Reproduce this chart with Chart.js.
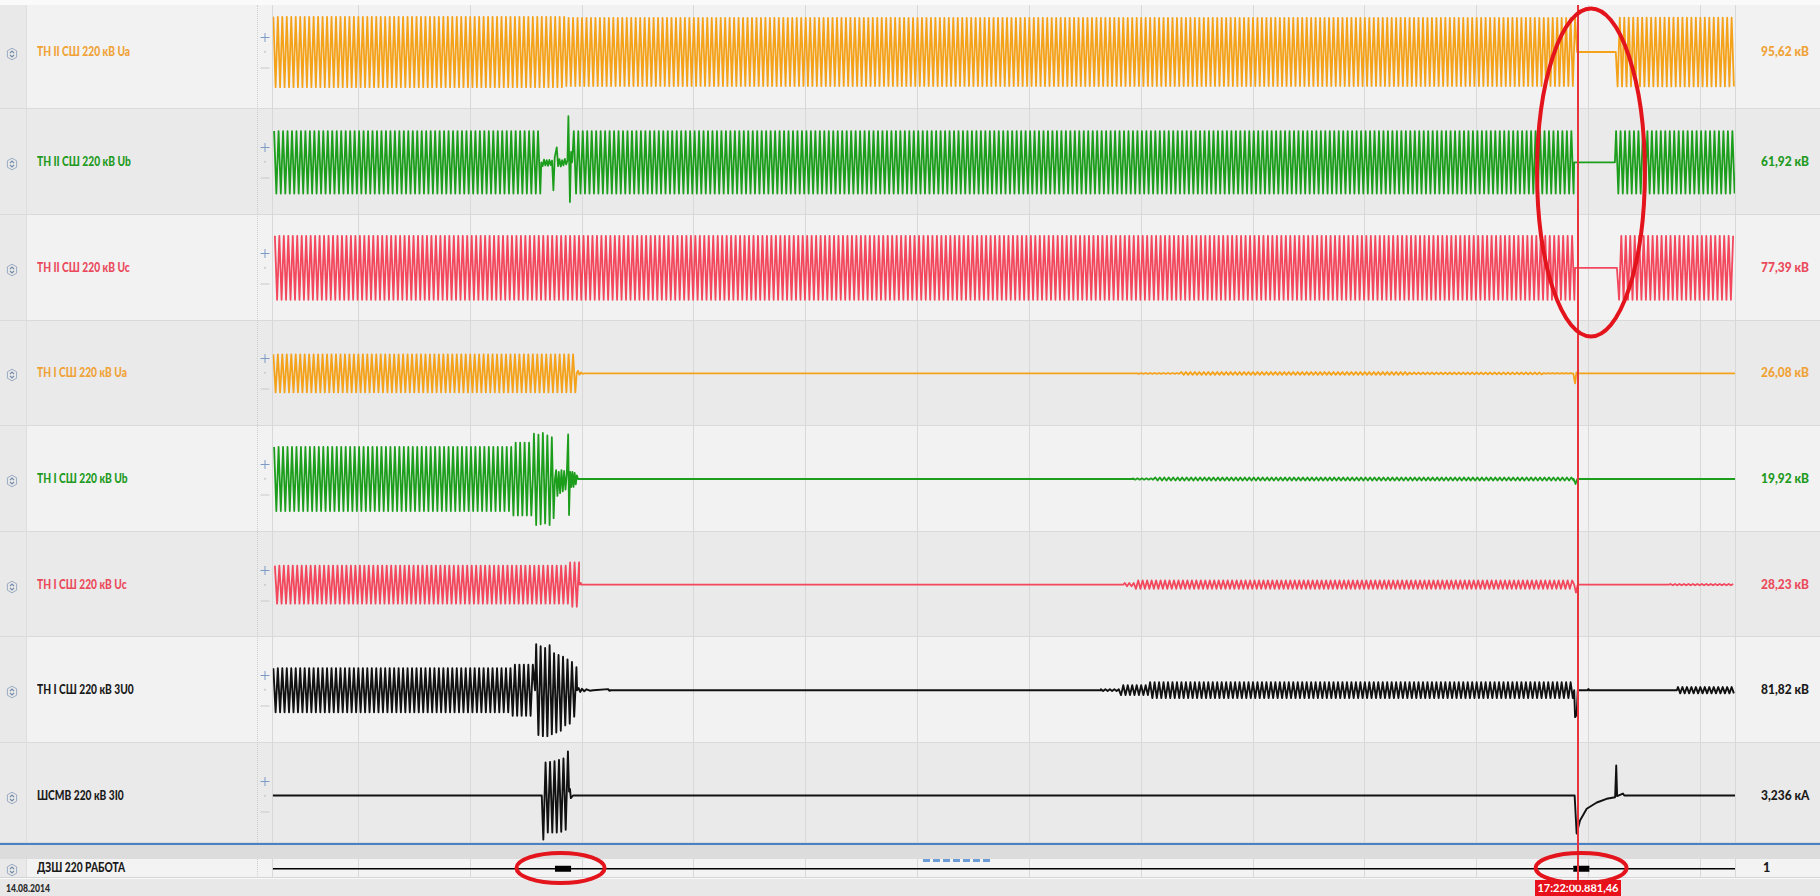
<!DOCTYPE html>
<html lang="ru">
<head>
<meta charset="utf-8">
<title>Осциллограмма 14.08.2014</title>
<script src="https://cdn.jsdelivr.net/npm/chart.js@4.4.1/dist/chart.umd.min.js"></script>
<style>
  html, body { margin: 0; padding: 0; }
  body { width: 1820px; height: 896px; position: relative; overflow: hidden; background: #fafafa;
         font-family: Lato, "Open Sans", "DejaVu Sans", sans-serif; }
  .strip { position: absolute; left: 0; width: 1820px; box-sizing: border-box; border-bottom: 1px solid #dadada; }
  .icol { position: absolute; left: 0; top: 0; bottom: 0; width: 27px; background: #e9e9e9; border-right: 1px solid #dedede; box-sizing: border-box; }
  .txt { position: absolute; font-weight: 900; font-size: 12.5px; line-height: 14px; white-space: nowrap; transform-origin: 0 50%; }
  canvas { position: absolute; }
</style>
</head>
<body>
<div id="stage"></div>
<script>
// ---- time axis (ms, zero at the first 0.5 s grid line) ----
const TIME_MIN = -383;
const TIME_MAX = 6155;
const timeGrid = [0, 500, 1000, 1500, 2000, 2500, 3000, 3500, 4000, 4500, 5000, 5500, 6000];
const HALF_PERIOD = 10;            // 50 Hz mains, one peak every 10 ms
const cursorTime = 5453;
const cursorStamp = '17:22:00.881,46';
const recordDate = '14.08.2014';

// ---- channel captions and readings at the cursor ----
const channelNames = [
  'ТН II СШ 220 кВ Ua', 'ТН II СШ 220 кВ Ub', 'ТН II СШ 220 кВ Uc',
  'ТН I СШ 220 кВ Ua', 'ТН I СШ 220 кВ Ub', 'ТН I СШ 220 кВ Uc',
  'ТН I СШ 220 кВ 3U0', 'ШСМВ 220 кВ 3I0'
];
const cursorReadings = ['95,62 кВ', '61,92 кВ', '77,39 кВ', '26,08 кВ', '19,92 кВ', '28,23 кВ', '81,82 кВ', '3,236 кА'];
const digitalName = 'ДЗШ 220 РАБОТА';
const digitalReading = '1';

// ---- analog signals: steady oscillation envelopes [from ms, to ms, peak] ----
// ---- and irregular stretches as explicit [ms, value] samples ----
const uaIIEnvelope = [[-383, 930, 180], [930, 5449, 174], [5449, 5622, 0], [5622, 6155, 176]];
const uaIISamples = [];

const ubIIEnvelope = [[-383, 818, 180], [956, 5436, 180], [5436, 5618, 0], [5618, 6155, 180]];
const ubIISamples = [
  [818, 0], [824, -22], [830, 15], [836, -18], [842, 12], [848, -20], [854, 14], [860, -16], [866, 10],
  [872, -161], [878, 30], [887, 86], [893, -22], [899, 18], [905, -24], [911, 12], [917, -18], [923, 20],
  [929, -12], [935, 10], [939, 265], [946, -229], [951, 60], [956, 0]
];

const ucIIEnvelope = [[-383, 5440, 180], [5440, 5627, 0], [5627, 6155, 180]];
const ucIISamples = [];

const uaIEnvelope = [[-383, 976, 180], [1010, 3484, 0], [3484, 3674, 4], [3674, 4700, 14], [4700, 5300, 9], [5300, 5432, 3], [5452, 6155, 0]];
const uaISamples = [
  [976, 0], [982, 25], [988, -12], [995, 8], [1002, -4], [1010, 0],
  [5432, 0], [5440, -95], [5446, 10], [5452, 0]
];

const ubIEnvelope = [[-383, 690, 180], [690, 780, 205], [982, 3459, 0], [3459, 3560, 4], [3560, 5434, 9], [5450, 6155, 0]];
const ubISamples = [
  [780, 0], [785, 255], [795, -259], [805, 250], [815, -255], [825, 259], [835, -250], [845, 245], [855, -259],
  [865, 235], [873, -220], [879, 0], [884, 50], [890, -95], [896, 40], [902, -80], [908, 50], [914, -70],
  [920, 45], [926, -60], [932, 30], [938, 251], [942, -203], [947, 40], [952, -45], [957, 40], [962, -45],
  [967, 35], [972, -30], [977, 20], [982, 0],
  [5434, 0], [5442, -28], [5450, 0]
];

const ucIEnvelope = [[-383, 940, 180], [940, 987, 210], [995, 3420, 0], [3420, 3470, 15], [3470, 5436, 40], [5452, 5860, 0], [5860, 6155, 6]];
const ucISamples = [[987, 0], [991, 15], [995, 0], [5436, 0], [5444, -76], [5452, 0]];

const u0Envelope = [[-383, 690, 125], [690, 790, 145], [1125, 3316, 0], [3316, 3405, 5], [3405, 3540, 28], [3540, 5436, 45], [5501, 5895, 0], [5895, 6155, 18]];
const u0Samples = [
  [790, 0], [795, 261], [805, -255], [815, 250], [825, -261], [835, 240], [845, -261], [855, 255], [865, -250],
  [875, 210], [885, -240], [895, 200], [905, -230], [915, 190], [925, -200], [935, 175], [945, -190],
  [955, 160], [965, -150], [975, 130], [978, 0], [985, 12], [992, -10], [1000, 8], [1010, -6], [1020, 5],
  [1035, -3], [1050, 0], [1117, 6], [1122, -3], [1125, 0],
  [5436, 0], [5440, -153], [5447, -140], [5452, 0], [5495, 0], [5498, 6], [5501, 0]
];

const i0Envelope = [[-383, 820, 0], [960, 5438, 0], [5660, 6155, 0]];
const i0Samples = [
  [820, 0], [827, -3.33], [837, 2.5], [847, -2.8], [857, 2.55], [867, -2.8], [877, 2.6], [887, -2.8],
  [897, 2.7], [907, -2.75], [917, 2.8], [927, -2.6], [937, 3.33], [942, 0.3], [946, 0.5], [950, -0.2], [960, 0],
  [5438, 0], [5447, -2.88], [5462, -1.9], [5492, -1.0], [5537, -0.53], [5581, -0.25], [5619, -0.13],
  [5624, 2.27], [5628, -0.05], [5654, 0.15], [5660, 0]
];

// ---- digital signal ДЗШ: state changes ----
const dzshTimes = [-383, 879, 951, 5432, 5504, 6155];
const dzshStates = [0, 1, 0, 1, 0, 0];

// ---- presentation ----
const channelColors = ['#f5a21b', '#1c9e1c', '#f2475c', '#f5a21b', '#1c9e1c', '#f2475c', '#111111', '#111111'];
const captionColors = ['#f0a236', '#229a22', '#ea4a5c', '#f0a236', '#229a22', '#ea4a5c', '#1a1a1a', '#1a1a1a'];
const channelRange = [270, 304, 297, 500, 297, 500, 300, 4];   // value shown at one nominal half-strip
const channelPhase = [0, 3.3, 6.7, 0, 3.3, 6.7, 0, 0];
const envelopes = [uaIIEnvelope, ubIIEnvelope, ucIIEnvelope, uaIEnvelope, ubIEnvelope, ucIEnvelope, u0Envelope, i0Envelope];
const samples = [uaIISamples, ubIISamples, ucIISamples, uaISamples, ubISamples, ucISamples, u0Samples, i0Samples];

const strips = [
  {top: 5, bottom: 109, mid: 52}, {top: 109, bottom: 215, mid: 162.3}, {top: 215, bottom: 321, mid: 267.8},
  {top: 321, bottom: 426, mid: 373.4}, {top: 426, bottom: 532, mid: 479}, {top: 532, bottom: 637, mid: 584.6},
  {top: 637, bottom: 743, mid: 690.2}, {top: 743, bottom: 843, mid: 795.5}
];
const HALF_STRIP = 52.8;
const PLOT_LEFT = 272.7, PLOT_RIGHT = 1735;
const CANVAS_LEFT = 268, CANVAS_WIDTH = 1472;
const CAPTION_WIDTH = 93;      // width of the first caption line
const READING_WIDTH = 48;      // width of the first reading

// expands an envelope into alternating mains peaks and merges the explicit samples
function buildTrace(envelope, extra, phase) {
  const pts = [];
  for (const [from, to, peak] of envelope) {
    if (peak === 0) { pts.push({x: from, y: 0}, {x: to, y: 0}); continue; }
    let k = Math.ceil((from - phase) / HALF_PERIOD);
    for (let t = phase + k * HALF_PERIOD; t < to; t += HALF_PERIOD, k++) {
      pts.push({x: t, y: (((k % 2) + 2) % 2 === 0 ? 1 : -1) * peak});
    }
  }
  for (const [t, v] of extra) pts.push({x: t, y: v});
  pts.sort((a, b) => a.x - b.x);
  return pts;
}

const stage = document.getElementById('stage');
function el(tag, css, parent = stage, html = '') {
  const e = document.createElement(tag);
  Object.assign(e.style, css);
  if (html) e.innerHTML = html;
  parent.appendChild(e);
  return e;
}
// the panel font is narrower than Lato; squeeze captions to the panel's widths
const mctx = document.createElement('canvas').getContext('2d');
mctx.font = '900 12.5px Lato, "Open Sans", sans-serif';
const captionSqueeze = Math.min(1, CAPTION_WIDTH / mctx.measureText(channelNames[0]).width);
const readingSqueeze = Math.min(1, READING_WIDTH / mctx.measureText(cursorReadings[0]).width);

const sortIcon = '<svg width="12" height="14" viewBox="0 0 12 14"><path d="M6 1.2 L10.6 3.8 L10.6 10.2 L6 12.8 L1.4 10.2 L1.4 3.8 Z" fill="none" stroke="#9aabc2" stroke-width="1"/><path d="M3.9 6.1 L6 4 L8.1 6.1 M3.9 7.9 L6 10 L8.1 7.9" fill="none" stroke="#6f87a8" stroke-width="1.1"/></svg>';
const zoomIcons = '<svg width="12" height="36" viewBox="0 0 12 36"><path d="M1.5 4.5 H10.5 M6 0 V9" stroke="#7d9bc6" stroke-width="1"/><circle cx="6" cy="18.8" r="1.1" fill="#cdcdcd"/><path d="M1.5 35 H10.5" stroke="#c9c9c9" stroke-width="1"/></svg>';

function caption(parent, text, left, top, color, squeeze) {
  const d = el('div', {left: left + 'px', top: top + 'px', color, transform: 'scaleX(' + squeeze + ')'}, parent);
  d.className = 'txt';
  d.textContent = text;
  return d;
}

function xAxis() {
  return {
    type: 'linear', min: TIME_MIN, max: TIME_MAX,
    afterBuildTicks: s => { s.ticks = [TIME_MIN, ...timeGrid, TIME_MAX].map(value => ({value})); },
    ticks: {display: false},
    grid: {color: '#d8d8d8', drawTicks: false, lineWidth: 1},
    border: {display: false}
  };
}
function baseOptions(yMin, yMax) {
  return {
    responsive: false, animation: false, events: [], parsing: false, normalized: true,
    layout: {padding: {left: PLOT_LEFT - CANVAS_LEFT, right: CANVAS_LEFT + CANVAS_WIDTH - PLOT_RIGHT, top: 0, bottom: 0}},
    plugins: {legend: {display: false}, tooltip: {enabled: false}},
    elements: {point: {radius: 0}, line: {tension: 0}},
    scales: {x: xAxis(), y: {display: false, min: yMin, max: yMax}}
  };
}

const charts = [];
strips.forEach((s, i) => {
  const h = s.bottom - s.top;
  const strip = el('div', {top: s.top + 'px', height: h + 'px', background: i % 2 === 0 ? '#f2f2f2' : '#eaeaea'}, stage);
  strip.className = 'strip';
  el('div', {}, strip).className = 'icol';
  el('div', {position: 'absolute', left: '6px', top: (s.mid - s.top - 7) + 'px', width: '12px', height: '14px'}, strip, sortIcon);
  caption(strip, channelNames[i], 37, s.mid - s.top - 7, captionColors[i], captionSqueeze);
  el('div', {position: 'absolute', left: '259px', top: (s.mid - s.top - 19) + 'px', width: '12px', height: '36px'}, strip, zoomIcons);
  caption(strip, cursorReadings[i], 1761, s.mid - s.top - 7, captionColors[i], readingSqueeze);

  const cv = el('canvas', {left: CANVAS_LEFT + 'px', top: s.top + 'px', width: CANVAS_WIDTH + 'px', height: h + 'px', zIndex: 2});
  cv.width = CANVAS_WIDTH; cv.height = h;
  const unit = channelRange[i] / HALF_STRIP;
  const yMax = (s.mid - s.top) * unit, yMin = -(s.bottom - s.mid) * unit;
  charts.push(new Chart(cv, {
    type: 'line',
    data: {datasets: [{
      label: channelNames[i],
      data: buildTrace(envelopes[i], samples[i], channelPhase[i]),
      borderColor: channelColors[i],
      borderWidth: i >= 6 ? 1.9 : 1.8,
      borderJoinStyle: 'round',
      pointRadius: 0, fill: false
    }]},
    options: baseOptions(yMin, yMax)
  }));
});

// dotted separator between captions and traces
el('div', {position: 'absolute', left: '257px', top: '5px', height: '838px', borderLeft: '1px dotted #cdcdcd', zIndex: 1});

// splitter under the analog strips
el('div', {position: 'absolute', left: '0', top: '843px', width: '1820px', height: '2px', background: '#4a80c4', zIndex: 3});
el('div', {position: 'absolute', left: '0', top: '845px', width: '1820px', height: '14px', background: '#dcdcdc', zIndex: 3});
el('div', {position: 'absolute', left: '922px', top: '847px', width: '70px', height: '5px', zIndex: 3}, stage,
   '<svg width="70" height="5"><line x1="1" y1="2.5" x2="68" y2="2.5" stroke="#6d9bd8" stroke-width="3" stroke-dasharray="7 3"/></svg>');

// digital strip
const dStrip = el('div', {top: '859px', height: '19px', background: '#f3f3f3', borderBottom: '1px solid #d4d4d4'});
dStrip.className = 'strip';
el('div', {}, dStrip).className = 'icol';
el('div', {position: 'absolute', left: '6px', top: '2px', width: '12px', height: '14px'}, dStrip, sortIcon);
caption(dStrip, digitalName, 37, 2, '#1a1a1a', captionSqueeze);
caption(dStrip, digitalReading, 1763, 2, '#1a1a1a', 1);
el('div', {position: 'absolute', left: '257px', top: '0', height: '19px', borderLeft: '1px dotted #cdcdcd'}, dStrip);
const dcv = el('canvas', {left: CANVAS_LEFT + 'px', top: '859px', width: CANVAS_WIDTH + 'px', height: '19px', zIndex: 2});
dcv.width = CANVAS_WIDTH; dcv.height = 19;
charts.push(new Chart(dcv, {
  type: 'line',
  data: {datasets: [{
    label: digitalName,
    data: dzshTimes.map(t => ({x: t, y: 0})),
    borderColor: '#000000', borderWidth: 1.3, borderCapStyle: 'butt', pointRadius: 0,
    segment: {borderWidth: ctx => dzshStates[ctx.p0DataIndex] ? 6 : 1.3}
  }]},
  options: baseOptions(-1, 1.05)
}));

// status bar
el('div', {position: 'absolute', left: '0', top: '879px', width: '1820px', height: '17px', background: '#e8e8e8'});
const dt = caption(stage, recordDate, 6, 881, '#2a2a2a', 0.78);
dt.style.fontSize = '11px'; dt.style.lineHeight = '13px';

// cursor and its time stamp, placed through the time scale
const xs = charts[0].scales.x;
const cx = CANVAS_LEFT + xs.getPixelForValue(cursorTime);
el('div', {position: 'absolute', left: (cx - 0.75) + 'px', top: '5px', width: '1.5px', height: '876px', background: '#e8343c', zIndex: 5});
const stamp = el('div', {position: 'absolute', left: (cx - 43) + 'px', top: '880px', width: '86px', height: '16px', background: '#e8101a',
  color: '#ffffff', fontWeight: '700', fontSize: '11px', lineHeight: '16px', textAlign: 'center', zIndex: 6});
stamp.textContent = cursorStamp;

// hand-drawn circles around the switching moments
const circled = [
  {t: 5511, half: 241, cy: 172.5, ry: 164},
  {t: 904, half: 197, cy: 868, ry: 15},
  {t: 5467, half: 203, cy: 868, ry: 15}
];
const ov = el('canvas', {left: '0', top: '0', width: '1820px', height: '896px', zIndex: 7, pointerEvents: 'none'});
ov.width = 1820; ov.height = 896;
const octx = ov.getContext('2d');
octx.strokeStyle = '#e3141c'; octx.lineWidth = 4;
circled.forEach(c => {
  const px = CANVAS_LEFT + xs.getPixelForValue(c.t);
  const rx = xs.getPixelForValue(c.t + c.half) - xs.getPixelForValue(c.t);
  octx.beginPath();
  octx.ellipse(px, c.cy, rx, c.ry, 0, 0, Math.PI * 2);
  octx.stroke();
});
</script>
</body>
</html>
